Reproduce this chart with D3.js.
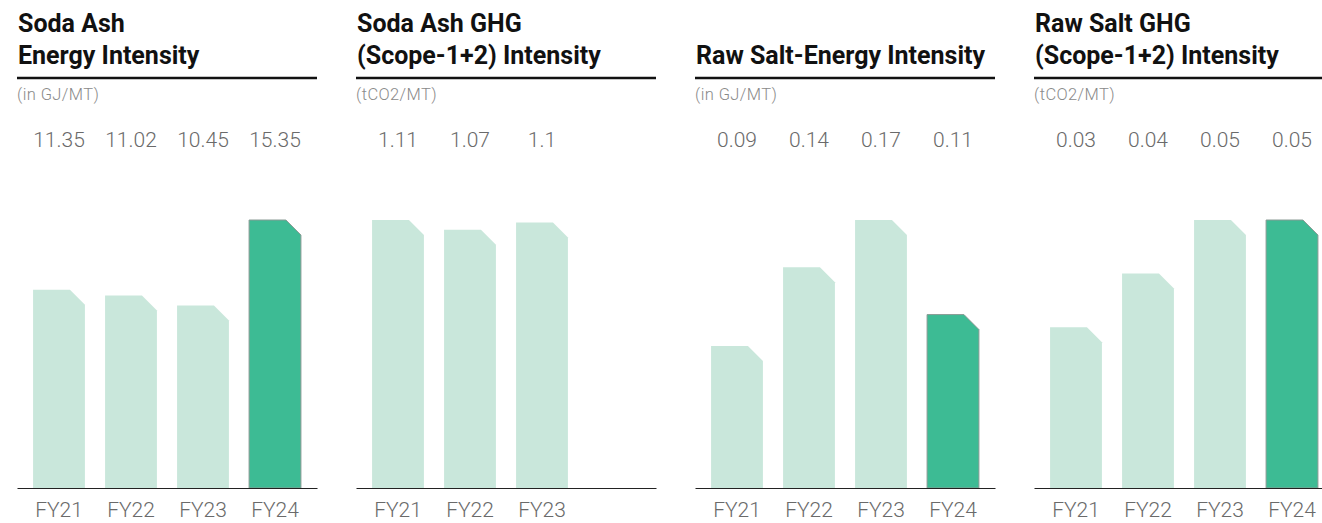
<!DOCTYPE html>
<html>
<head>
<meta charset="utf-8">
<script src="https://d3js.org/d3.v7.min.js"></script>
<style>
  body { margin: 0; background: #fff; }
  svg { display: block; font-family: Roboto, "Noto Sans", sans-serif; }
  .title { font-size: 25px; font-weight: 700; fill: #111; }
  .unit { font-size: 16.5px; fill: #8a8a8a; font-weight: 300; letter-spacing: 0.4px; }
  .value { font-size: 21px; fill: #6a6a6a; font-weight: 300; }
  .axis text { font-size: 21px; fill: #6a6a6a; font-weight: 300; font-family: Roboto, "Noto Sans", sans-serif; }
</style>
</head>
<body>
<svg id="chart" width="1322" height="523"></svg>
<script>
// data
const years = ['FY21', 'FY22', 'FY23', 'FY24'];
const sodaAshEnergy = [11.35, 11.02, 10.45, 15.35];
const sodaAshGhg = [1.11, 1.07, 1.1];
const rawSaltEnergy = [0.09, 0.14, 0.17, 0.11];
const rawSaltGhg = [0.03, 0.04, 0.05, 0.05];

const titles = [
  ['Soda Ash', 'Energy Intensity'],
  ['Soda Ash GHG', '(Scope-1+2) Intensity'],
  ['Raw Salt-Energy Intensity'],
  ['Raw Salt GHG', '(Scope-1+2) Intensity']
];
const units = ['(in GJ/MT)', '(tCO2/MT)', '(in GJ/MT)', '(tCO2/MT)'];
const series = [sodaAshEnergy, sodaAshGhg, rawSaltEnergy, rawSaltGhg];
const highlightYear = 'FY24';

const svg = d3.select('#chart');
const panelW = 300, panelStep = 339, panelX0 = 17;
const baseY = 488, topY = 220;
const cut = 15;

const x = d3.scaleBand()
  .domain(years)
  .range([0, panelW])
  .paddingInner(0.28)
  .paddingOuter(0.2233);

series.forEach((vals, i) => {
  const g = svg.append('g')
    .attr('transform', `translate(${panelX0 + i * panelStep},0)`);

  const data = vals.map((v, j) => ({ year: years[j], value: v }));
  const y = d3.scaleLinear()
    .domain([0, d3.max(vals)])
    .range([baseY, topY]);

  // title, last line sits just above the rule
  const lines = titles[i];
  lines.forEach((t, k) => {
    g.append('text')
      .attr('class', 'title')
      .attr('x', 1)
      .attr('y', 64 - (lines.length - 1 - k) * 32)
      .text(t);
  });
  g.append('line')
    .attr('x1', 0).attr('x2', panelW)
    .attr('y1', 78).attr('y2', 78)
    .attr('stroke', '#111')
    .attr('stroke-width', 2.5);

  g.append('text')
    .attr('class', 'unit')
    .attr('x', 0)
    .attr('y', 100)
    .text(units[i]);

  // value labels above
  g.selectAll('.value')
    .data(data)
    .enter().append('text')
    .attr('class', 'value')
    .attr('text-anchor', 'middle')
    .attr('x', d => x(d.year) + x.bandwidth() / 2)
    .attr('y', 147)
    .text(d => String(d.value));

  // bars with clipped top-right corner
  g.selectAll('.bar')
    .data(data)
    .enter().append('path')
    .attr('class', 'bar')
    .attr('d', d => {
      const x0 = x(d.year), x1 = x0 + x.bandwidth();
      const t = y(d.value);
      const c = Math.min(cut, baseY - t);
      return `M${x0},${baseY}V${t}H${x1 - c}L${x1},${t + c}V${baseY}Z`;
    })
    .attr('fill', d => d.year === highlightYear ? '#3dbb94' : '#c9e7db')
    .attr('stroke', d => d.year === highlightYear ? '#8a9a94' : 'none')
    .attr('stroke-width', 1);

  // x axis: baseline and year labels
  const shownYears = data.map(d => d.year);
  const axis = g.append('g')
    .attr('class', 'axis')
    .attr('transform', `translate(0,${baseY})`)
    .call(d3.axisBottom(x).tickValues(shownYears).tickSize(0).tickSizeOuter(0).tickPadding(14));
  axis.select('.domain').attr('stroke', '#222').attr('stroke-width', 1.2);
});
</script>
</body>
</html>
